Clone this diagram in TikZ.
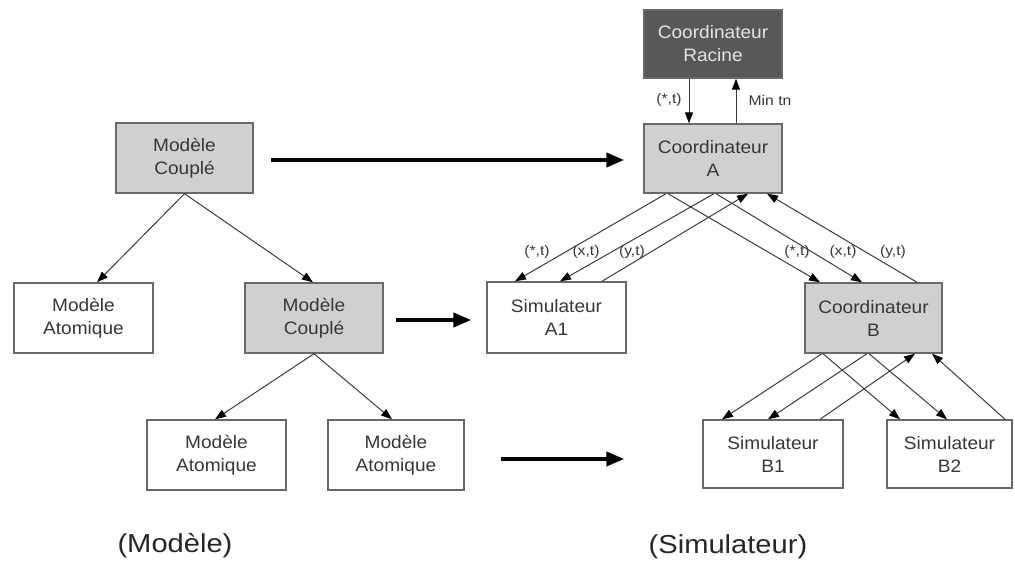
\documentclass[tikz,border=0pt]{standalone}
\usepackage{fontspec}
\setmainfont{Liberation Sans}
\newfontfamily\boxfont[FakeStretch=1.06]{Liberation Sans}
\newfontfamily\lblfont[FakeStretch=1.12]{Liberation Sans}
\usetikzlibrary{arrows.meta}
\definecolor{boxline}{RGB}{105,105,105}
\definecolor{boxfill}{RGB}{208,208,208}
\definecolor{rootfill}{RGB}{88,88,88}
\definecolor{roottext}{RGB}{228,228,228}
\definecolor{boxtext}{RGB}{55,55,55}
\definecolor{wire}{RGB}{60,60,60}
\tikzset{
  plainbox/.style={draw=boxline, line width=1.4pt, fill=white, text=boxtext,
    align=center, inner sep=0pt, minimum height=70pt,
    font=\boxfont\fontsize{18}{23}\selectfont},
  graybox/.style={plainbox, fill=boxfill},
  rootbox/.style={plainbox, fill=rootfill, text=roottext},
  wirearrow/.style={draw=wire, line width=1pt,
    -{Triangle[length=11pt,width=8pt,black]}},
  bigarrow/.style={draw=black, line width=4pt,
    -{Triangle[length=18pt,width=14pt]}},
  msg/.style={text=boxtext, inner sep=1pt, font=\lblfont\fontsize{14}{16}\selectfont},
  caption/.style={text=black!85, inner sep=0pt, font=\lblfont\fontsize{26}{30}\selectfont}
}
\begin{document}
\begin{tikzpicture}[x=1pt,y=-1pt]
\useasboundingbox (0,0) rectangle (1015,569);

% model side
\node[graybox,  minimum width=137pt] (mc1) at (184.5,158) {Modèle\\Couplé};
\node[plainbox, minimum width=139pt] (ma1) at (83.5,318)  {Modèle\\Atomique};
\node[graybox,  minimum width=138pt] (mc2) at (314,318)   {Modèle\\Couplé};
\node[plainbox, minimum width=139pt] (ma2) at (216.5,455) {Modèle\\Atomique};
\node[plainbox, minimum width=136pt] (ma3) at (396,455)   {Modèle\\Atomique};

% simulator side
\node[rootbox,  minimum width=138pt, minimum height=68pt] (root) at (713,44) {Coordinateur\\Racine};
\node[graybox,  minimum width=138pt, minimum height=69pt] (ca) at (713,158.5) {Coordinateur\\A};
\node[plainbox, minimum width=139pt, minimum height=71pt] (sa1) at (556.5,317.5) {Simulateur\\A1};
\node[graybox,  minimum width=137pt] (cb) at (873.5,318) {Coordinateur\\B};
\node[plainbox, minimum width=140pt, minimum height=68pt] (sb1) at (773,454) {Simulateur\\B1};
\node[plainbox, minimum width=125pt, minimum height=68pt] (sb2) at (949.5,454) {Simulateur\\B2};

% model tree
\draw[wirearrow] (mc1.south) -- ([xshift=-87.5pt]ma1.north -| mc1.south);
\draw[wirearrow] (mc1.south) -- ([xshift=-1pt]mc2.north);
\draw[wirearrow] (mc2.south) -- ([xshift=-1.5pt]ma2.north);
\draw[wirearrow] (mc2.south) -- ([xshift=-4pt]ma3.north);

% root <-> A
\draw[wirearrow] ([xshift=-24pt]root.south) -- ([xshift=-24pt]ca.north);
\draw[wirearrow] ([xshift=23pt]ca.north) -- ([xshift=23pt]root.south);
\node[msg] (lroot1) at (669,100) {(*,t)};
\node[msg] (lroot2) at (770,100) {Min tn};

% A <-> A1 and B
\draw[wirearrow] ([xshift=-47pt]ca.south) -- ([xshift=-41.5pt]sa1.north);
\draw[wirearrow] ([xshift=1pt]ca.south) -- ([xshift=3.5pt]sa1.north);
\draw[wirearrow] ([xshift=45.5pt]sa1.north) -- ([xshift=35pt]ca.south);
\draw[wirearrow] ([xshift=-45pt]ca.south) -- ([xshift=-53.5pt]cb.north);
\draw[wirearrow] ([xshift=3pt]ca.south) -- ([xshift=-11.5pt]cb.north);
\draw[wirearrow] ([xshift=43.5pt]cb.north) -- ([xshift=54pt]ca.south);
\node[msg] (la1) at (537,252) {(*,t)};
\node[msg] (la2) at (586,252) {(x,t)};
\node[msg] (la3) at (632,252) {(y,t)};
\node[msg] (lb1) at (797,252) {(*,t)};
\node[msg] (lb2) at (843,252) {(x,t)};
\node[msg] (lb3) at (893,252) {(y,t)};

% B <-> B1 and B2
\draw[wirearrow] ([xshift=-51.5pt]cb.south) -- ([xshift=-51pt]sb1.north);
\draw[wirearrow] ([xshift=-6.5pt]cb.south) -- ([xshift=-5pt]sb1.north);
\draw[wirearrow] ([xshift=47pt]sb1.north) -- ([xshift=41.5pt]cb.south);
\draw[wirearrow] ([xshift=-50.5pt]cb.south) -- ([xshift=-49.5pt]sb2.north);
\draw[wirearrow] ([xshift=-4.5pt]cb.south) -- ([xshift=-2.5pt]sb2.north);
\draw[wirearrow] ([xshift=55.5pt]sb2.north) -- ([xshift=58.5pt]cb.south);

% model -> simulator mapping
\draw[bigarrow, shorten <=17pt, shorten >=19pt] ([yshift=-2pt]mc1.east) -- ([yshift=-2pt]mc1.east -| ca.west);
\draw[bigarrow, shorten <=12pt, shorten >=15pt] ([yshift=-2pt]mc2.east) -- ([yshift=-2pt]mc2.east -| sa1.west);
\draw[bigarrow, shorten <=36pt, shorten >=78pt] ([yshift=-4pt]ma3.east) -- ([yshift=-4pt]ma3.east -| sb1.west);

% captions
\node[caption] (capm) at (175,546) {(Modèle)};
\node[caption] (caps) at (728,547) {(Simulateur)};
\end{tikzpicture}
\end{document}
